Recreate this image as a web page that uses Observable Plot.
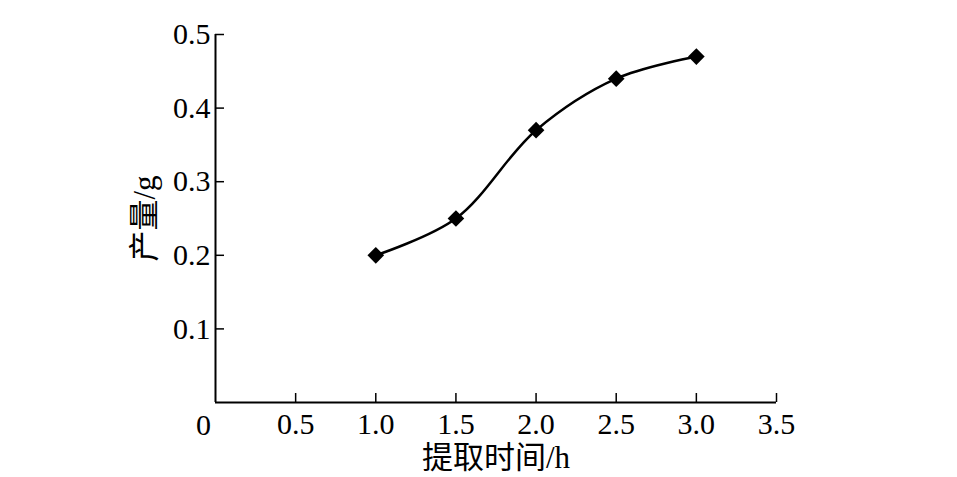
<!DOCTYPE html>
<html><head><meta charset="utf-8">
<script src="https://cdn.jsdelivr.net/npm/d3@7"></script>
<script src="https://cdn.jsdelivr.net/npm/@observablehq/plot@0.6"></script>
<style>
body{margin:0;background:#fff;}
svg{font-family:"Liberation Serif","Noto Sans CJK SC",serif;}
</style>
</head><body><div id="chart"></div>
<script>
const times = [1.0, 1.5, 2.0, 2.5, 3.0];
const yields = [0.20, 0.25, 0.37, 0.44, 0.47];
const xTicks = [0.5, 1.0, 1.5, 2.0, 2.5, 3.0, 3.5];
const yTicks = [0.1, 0.2, 0.3, 0.4, 0.5];
const xLabel = "提取时间/h";
const yLabel = "产量/g";

const data = times.map((t, i) => ({t, y: yields[i]}));
const fontFamily = '"Liberation Serif","Noto Sans CJK SC",serif';

const chart = Plot.plot({
  width: 957, height: 477,
  marginLeft: 215, marginRight: 181, marginTop: 34, marginBottom: 75,
  style: {fontFamily, fontSize: "30px", color: "#000", background: "#fff"},
  x: {domain: [0, 3.5]},
  y: {domain: [0, 0.5]},
  marks: [
    Plot.ruleX([0], {stroke: "#000", strokeWidth: 2}),
    Plot.ruleY([0], {stroke: "#000", strokeWidth: 2}),
    Plot.axisX({ticks: xTicks, tickSize: 0, tickPadding: 10, tickFormat: d3.format(".1f"), label: null, fontSize: 30}),
    Plot.axisX({ticks: xTicks, tickSize: 9, text: null, dy: -9, strokeWidth: 1.5, label: null}),
    Plot.axisY({ticks: yTicks, tickSize: 0, tickPadding: 5, tickFormat: d3.format(".1f"), label: null, fontSize: 30}),
    Plot.axisY({ticks: yTicks, tickSize: 9, text: null, dx: 9, strokeWidth: 1.5, label: null}),
    Plot.text(["0"], {x: 0, y: 0, dx: -12, dy: 23, fontSize: 30}),
    Plot.text([xLabel], {frameAnchor: "bottom", lineAnchor: "middle", textAnchor: "middle", dy: 56, fontSize: 31}),
    Plot.text([yLabel], {frameAnchor: "left", lineAnchor: "middle", textAnchor: "middle", dx: -70, rotate: -90, fontSize: 31}),
    Plot.line(data, {x: "t", y: "y", curve: "catmull-rom", stroke: "#000", strokeWidth: 2.5}),
    Plot.dot(data, {x: "t", y: "y", symbol: "diamond2", r: 7.5, fill: "#000", stroke: null})
  ]
});
document.getElementById("chart").appendChild(chart);
</script>
</body></html>
